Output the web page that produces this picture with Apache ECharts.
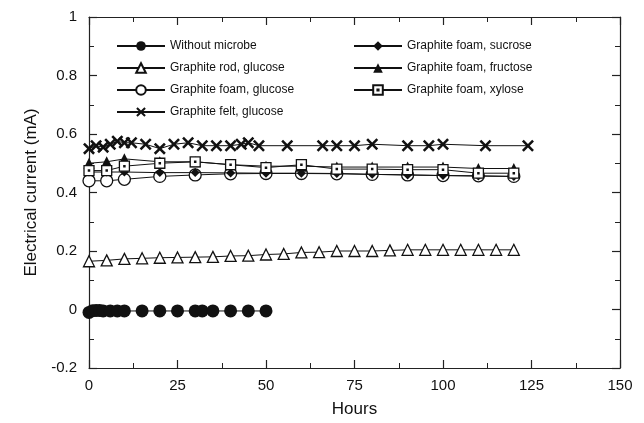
<!DOCTYPE html>
<html>
<head>
<meta charset="utf-8">
<script src="https://cdn.jsdelivr.net/npm/echarts@6/dist/echarts.min.js"></script>
<style>
  html, body { margin: 0; padding: 0; background: #fff; }
  #chart { width: 644px; height: 423px; }
</style>
</head>
<body>
<div id="chart"></div>
<script>
// data: [hours, mA]
const noMicrobe = [[0, -0.01], [1, -0.004], [2, -0.003], [3, -0.003], [4, -0.005], [6, -0.005], [8, -0.005], [10, -0.005], [15, -0.005], [20, -0.005], [25, -0.005], [30, -0.005], [32, -0.005], [35, -0.005], [40, -0.005], [45, -0.005], [50, -0.005]]
const rodGlucose = [[0, 0.165], [5, 0.168], [10, 0.173], [15, 0.175], [20, 0.177], [25, 0.178], [30, 0.179], [35, 0.18], [40, 0.183], [45, 0.184], [50, 0.188], [55, 0.19], [60, 0.195], [65, 0.196], [70, 0.2], [75, 0.2], [80, 0.2], [85, 0.202], [90, 0.204], [95, 0.204], [100, 0.204], [105, 0.204], [110, 0.204], [115, 0.204], [120, 0.204]]
const foamGlucose = [[0, 0.44], [5, 0.44], [10, 0.445], [20, 0.455], [30, 0.46], [40, 0.464], [50, 0.465], [60, 0.465], [70, 0.464], [80, 0.462], [90, 0.46], [100, 0.458], [110, 0.457], [120, 0.455]]
const feltGlucose = [[0, 0.55], [2, 0.56], [4, 0.555], [6, 0.565], [8, 0.575], [10, 0.57], [12, 0.57], [16, 0.565], [20, 0.55], [24, 0.565], [28, 0.57], [32, 0.56], [36, 0.56], [40, 0.56], [43, 0.565], [45, 0.57], [48, 0.56], [56, 0.56], [66, 0.56], [70, 0.56], [75, 0.56], [80, 0.565], [90, 0.56], [96, 0.56], [100, 0.565], [112, 0.56], [124, 0.56]]
const foamSucrose = [[0, 0.47], [5, 0.47], [10, 0.47], [20, 0.468], [30, 0.468], [40, 0.467], [50, 0.466], [60, 0.466], [70, 0.465], [80, 0.462], [90, 0.46], [100, 0.458], [110, 0.456], [120, 0.455]]
const foamFructose = [[0, 0.5], [5, 0.505], [10, 0.515], [20, 0.505], [30, 0.505], [40, 0.495], [50, 0.49], [60, 0.49], [70, 0.487], [80, 0.487], [90, 0.487], [100, 0.487], [110, 0.482], [120, 0.482]]
const foamXylose = [[0, 0.475], [5, 0.475], [10, 0.49], [20, 0.5], [30, 0.505], [40, 0.495], [50, 0.485], [60, 0.495], [70, 0.48], [80, 0.48], [90, 0.478], [100, 0.478], [110, 0.466], [120, 0.466]]

const seriesNames = ['Without microbe', 'Graphite rod, glucose', 'Graphite foam, glucose', 'Graphite felt, glucose',
  'Graphite foam, sucrose', 'Graphite foam, fructose', 'Graphite foam, xylose']

const crossSymbol = 'path://M0,1.5L1.5,0L5,3.5L8.5,0L10,1.5L6.5,5L10,8.5L8.5,10L5,6.5L1.5,10L0,8.5L3.5,5Z'
const dotSquare = 'path://M0,0H10V10H0Z M4.4,4.4H5.6V5.6H4.4Z'

const chart = echarts.init(document.getElementById('chart'))

const font = 'Liberation Sans, Arial, sans-serif'

const mkSeries = (name, data, symbol, size, fill, z) => ({
  name: name,
  type: 'line',
  data: data,
  symbol: symbol,
  symbolSize: size,
  z: z,
  lineStyle: { color: '#111', width: 1 },
  itemStyle: { color: fill, borderColor: '#111', borderWidth: fill === '#111' ? 0 : 1.3 },
  emphasis: { disabled: true },
  animation: false
})

const axisCommon = {
  axisLine: { show: true, onZero: false, lineStyle: { color: '#222', width: 1.2 } },
  axisTick: { show: true, inside: true, length: 8, lineStyle: { color: '#222', width: 1.2 } },
  minorTick: { show: true, splitNumber: 2, length: 5, lineStyle: { color: '#222', width: 1 } },
  splitLine: { show: false }
}

const legendCommon = {
  orient: 'vertical',
  itemWidth: 48,
  itemHeight: 12,
  itemGap: 10,
  textStyle: { fontFamily: font, fontSize: 12, color: '#111' },
  selectedMode: false
}

chart.setOption({
  backgroundColor: '#fff',
  grid: { left: 89, right: 24, top: 17, bottom: 55 },
  legend: [
    Object.assign({ left: 111, top: 35, data: seriesNames.slice(0, 4) }, legendCommon),
    Object.assign({ left: 348, top: 35, data: seriesNames.slice(4) }, legendCommon)
  ],
  xAxis: [
    Object.assign({
      type: 'value', min: 0, max: 150, interval: 25, position: 'bottom',
      name: 'Hours', nameLocation: 'middle', nameGap: 33,
      nameTextStyle: { fontFamily: font, fontSize: 17, color: '#111' },
      axisLabel: { fontFamily: font, fontSize: 15, color: '#111', margin: 10 }
    }, axisCommon),
    Object.assign({
      type: 'value', min: 0, max: 150, interval: 25, position: 'top',
      axisLabel: { show: false }
    }, axisCommon)
  ],
  yAxis: [
    Object.assign({
      type: 'value', min: -0.2, max: 1, interval: 0.2, position: 'left',
      name: 'Electrical current (mA)', nameLocation: 'middle', nameGap: 45,
      nameTextStyle: { fontFamily: font, fontSize: 17, color: '#111' },
      axisLabel: { fontFamily: font, fontSize: 15, color: '#111', margin: 12,
        formatter: v => String(Math.round(v * 10) / 10) }
    }, axisCommon),
    Object.assign({
      type: 'value', min: -0.2, max: 1, interval: 0.2, position: 'right',
      axisLabel: { show: false }
    }, axisCommon)
  ],
  series: [
    mkSeries(seriesNames[0], noMicrobe, 'circle', 13, '#111', 7),
    mkSeries(seriesNames[1], rodGlucose, 'triangle', 11, '#fff', 6),
    mkSeries(seriesNames[2], foamGlucose, 'circle', 12, '#fff', 2),
    mkSeries(seriesNames[3], feltGlucose, crossSymbol, 12, '#111', 5),
    mkSeries(seriesNames[4], foamSucrose, 'diamond', 9, '#111', 3),
    mkSeries(seriesNames[5], foamFructose, 'triangle', 11, '#111', 3),
    mkSeries(seriesNames[6], foamXylose, dotSquare, 10, '#fff', 4)
  ]
})
</script>
</body>
</html>
